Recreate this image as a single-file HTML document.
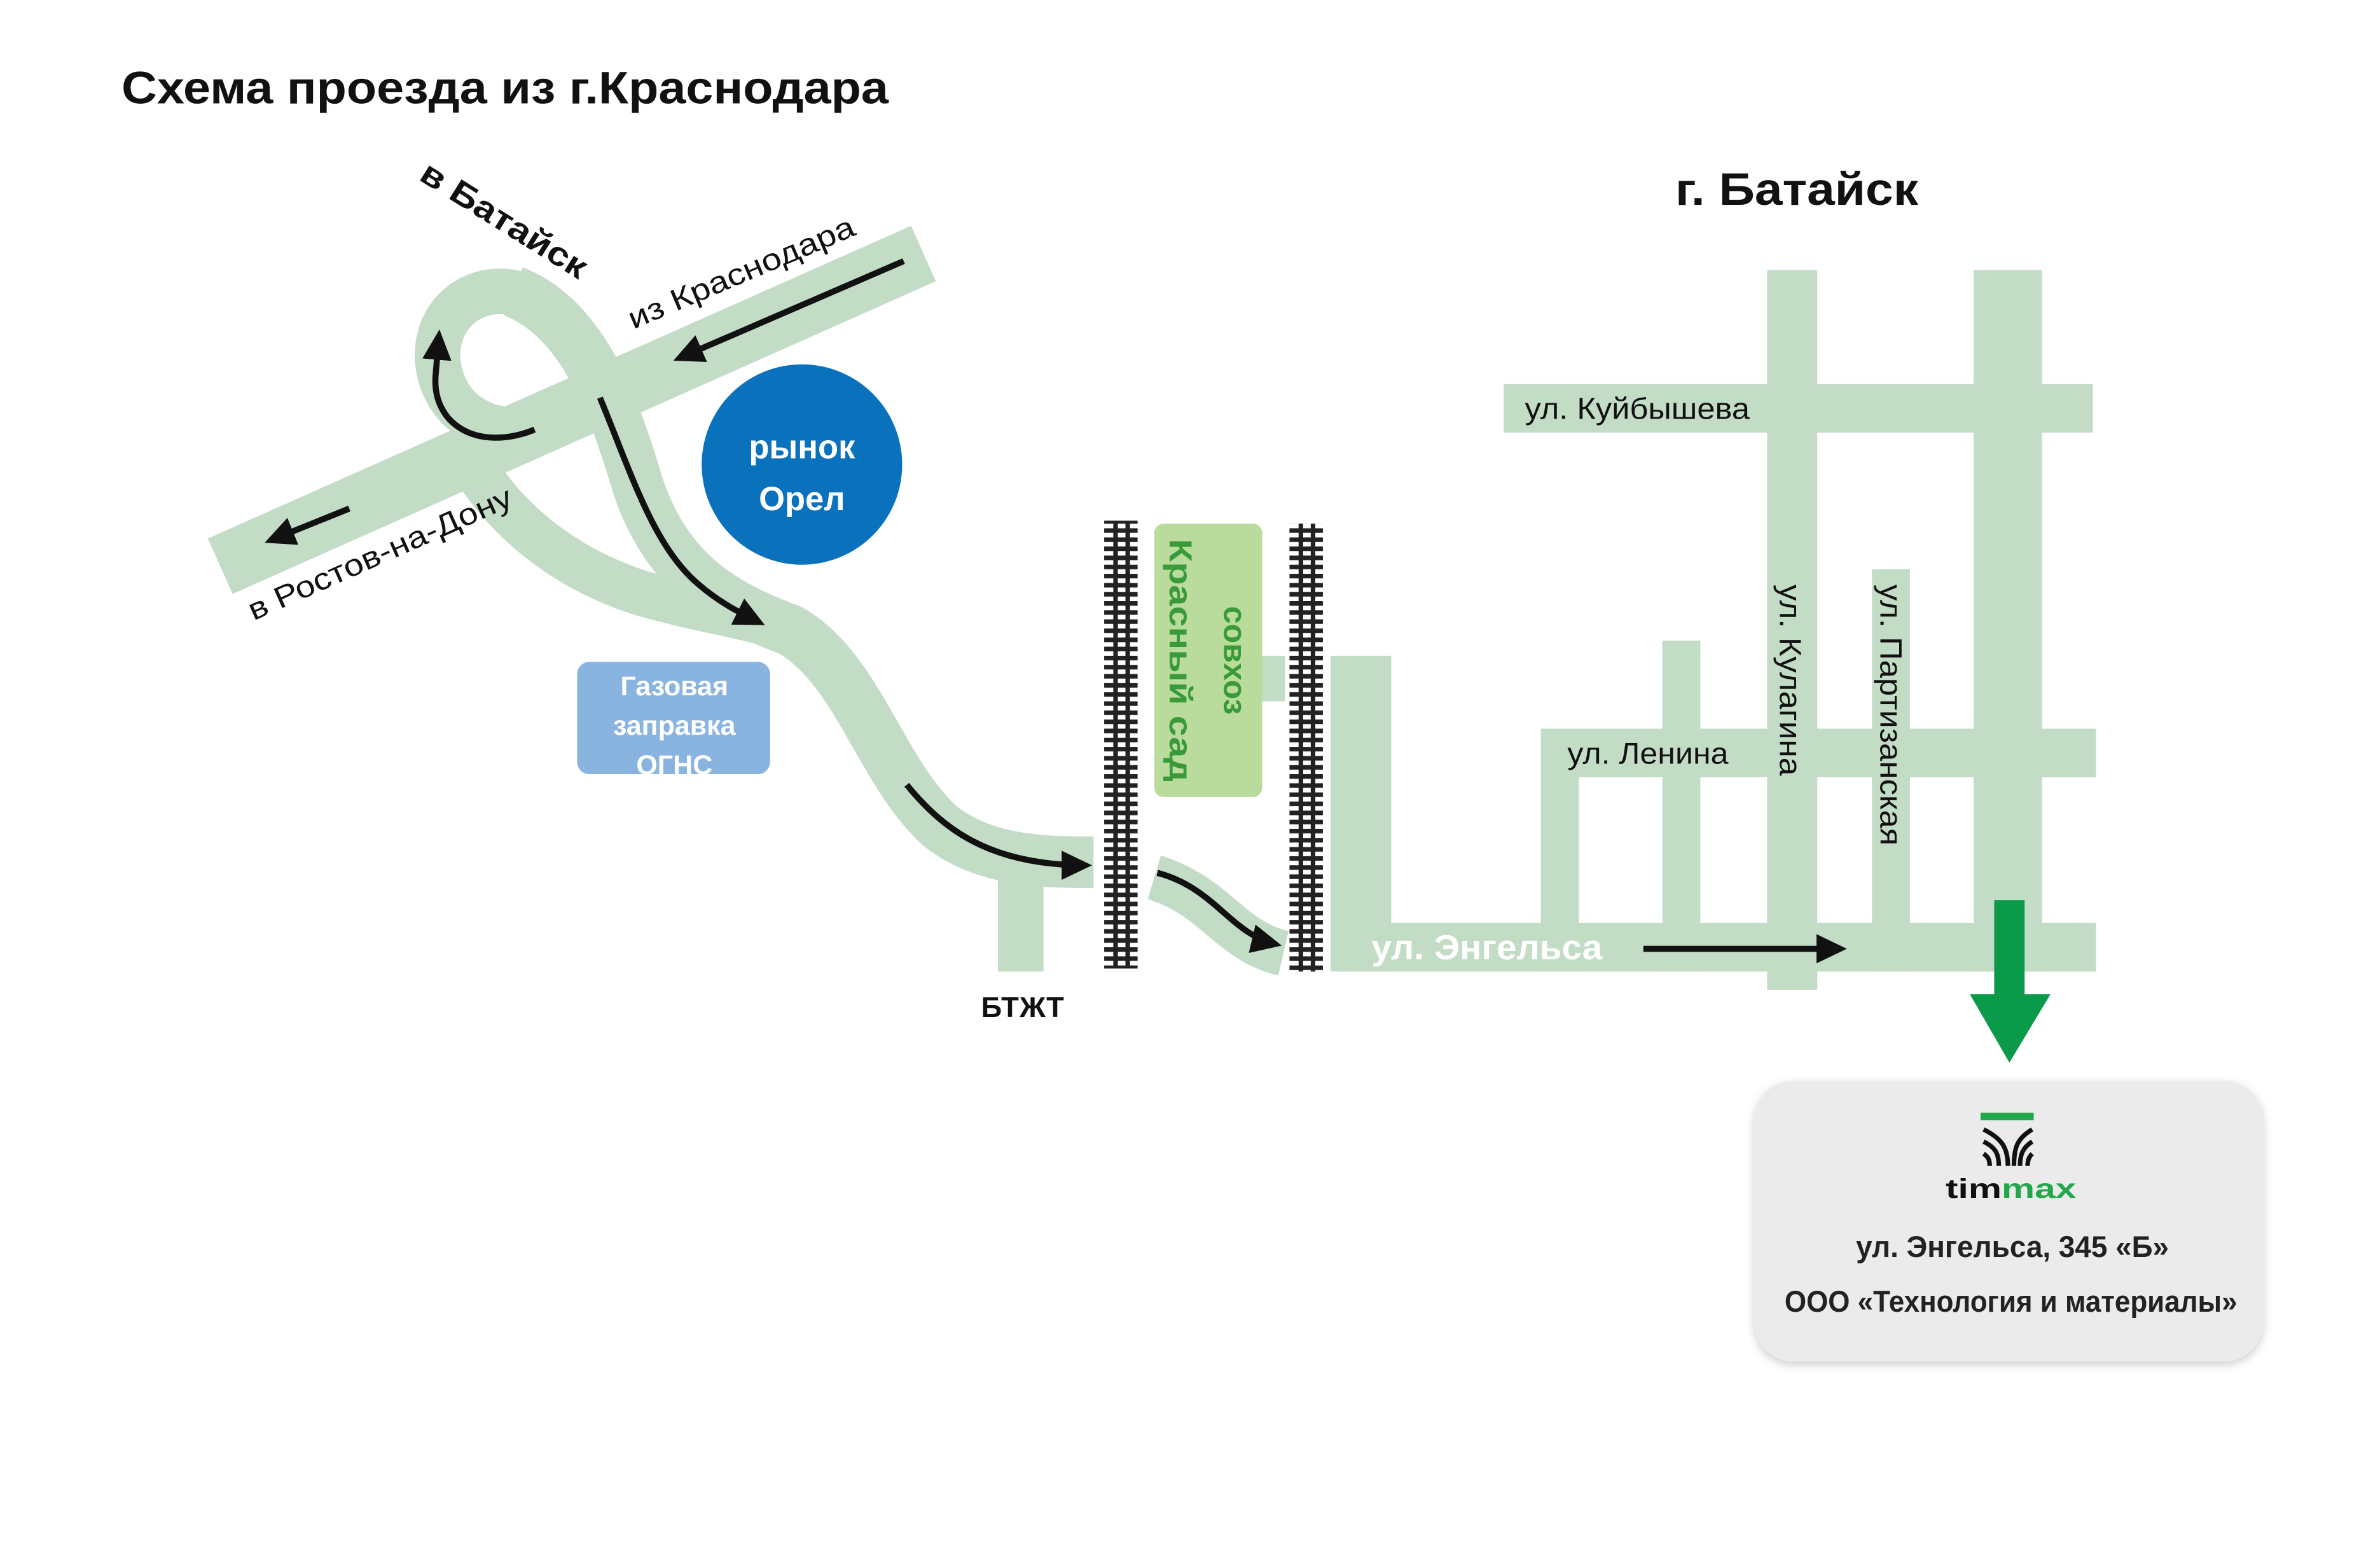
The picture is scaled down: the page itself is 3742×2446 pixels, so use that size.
<!DOCTYPE html>
<html><head><meta charset="utf-8"><style>
html,body{margin:0;padding:0;background:#fff;width:3742px;height:2446px;overflow:hidden}
svg{display:block}
text{font-family:"Liberation Sans","DejaVu Sans",sans-serif}
</style></head><body>
<svg width="3742" height="2446" viewBox="0 0 1567 1025" preserveAspectRatio="none" xmlns="http://www.w3.org/2000/svg">
<defs>
<marker id="ah" markerWidth="6" markerHeight="6" refX="4" refY="3" orient="auto" markerUnits="strokeWidth"><path d="M0,0.6 L5,3 L0,5.4 z" fill="#111"/></marker>
<pattern id="rail" width="22" height="6" patternUnits="userSpaceOnUse"><rect x="0" y="0" width="22" height="3" fill="#222"/></pattern>
<filter id="sh" x="-10%" y="-10%" width="120%" height="130%"><feDropShadow dx="0" dy="2" stdDeviation="3" flood-color="#000" flood-opacity="0.2"/></filter>
</defs>
<rect width="1567" height="1025" fill="#fff"/>
<text x="80" y="68" font-size="30" font-weight="bold" fill="#111" textLength="505" lengthAdjust="spacingAndGlyphs">Схема проезда из г.Краснодара</text>
<text x="1103" y="135" font-size="30" font-weight="bold" fill="#111" textLength="160" lengthAdjust="spacingAndGlyphs">г. Батайск</text>

<g fill="none" stroke="#c3dcc6" stroke-linecap="butt">
<line x1="145" y1="373" x2="608" y2="167" stroke-width="40"/>
<path d="M338 192 C385 210 405 270 420 320 C440 380 480 400 520 415 C565 440 580 510 620 545 C650 568 690 568 720 568" stroke-width="34"/>
<path d="M365 275 C330 295 290 275 288 235 C288 200 320 185 345 195" stroke-width="30"/>
<path d="M300 285 C320 330 360 370 420 390 C460 402 490 405 520 415" stroke-width="30"/>
<line x1="672" y1="580" x2="672" y2="640" stroke-width="30"/>
<path d="M760 578 C800 590 810 620 845 628" stroke-width="30"/>
<line x1="880" y1="624" x2="1380" y2="624" stroke-width="32"/>
<line x1="896" y1="432" x2="896" y2="640" stroke-width="40"/>
<line x1="1015" y1="496" x2="1380" y2="496" stroke-width="32"/>
<line x1="990" y1="269" x2="1378" y2="269" stroke-width="32"/>
<line x1="1027" y1="480" x2="1027" y2="640" stroke-width="25"/>
<line x1="1107" y1="422" x2="1107" y2="640" stroke-width="25"/>
<line x1="1180" y1="178" x2="1180" y2="652" stroke-width="33"/>
<line x1="1245" y1="375" x2="1245" y2="640" stroke-width="25"/>
<line x1="1322" y1="178" x2="1322" y2="640" stroke-width="45"/>
<line x1="838" y1="432" x2="838" y2="462" stroke-width="16"/>
</g>

<g>
<rect x="727" y="343" width="22" height="295" fill="url(#rail)"/>
<rect x="733" y="343" width="3" height="295" fill="#222"/><rect x="741" y="343" width="3" height="295" fill="#222"/>
<rect x="849" y="345" width="22" height="295" fill="url(#rail)"/>
<rect x="855" y="345" width="3" height="295" fill="#222"/><rect x="863" y="345" width="3" height="295" fill="#222"/>
</g>

<rect x="760" y="345" width="71" height="180" rx="6" fill="#b9dc9c"/>
<g transform="translate(806,435) rotate(90)"><text x="0" y="0" font-size="21" font-weight="bold" fill="#3a9a3a" text-anchor="middle">совхоз</text></g>
<g transform="translate(770,435) rotate(90)"><text x="0" y="0" font-size="21" font-weight="bold" fill="#3a9a3a" text-anchor="middle" textLength="160" lengthAdjust="spacingAndGlyphs">Красный сад</text></g>

<circle cx="528" cy="306" r="66" fill="#0a72bd"/>
<text x="528" y="302" font-size="22" font-weight="bold" fill="#fff" text-anchor="middle">рынок</text>
<text x="528" y="336" font-size="22" font-weight="bold" fill="#fff" text-anchor="middle">Орел</text>

<rect x="380" y="436" width="127" height="74" rx="8" fill="#8ab4e0"/>
<text x="444" y="458" font-size="18" font-weight="bold" fill="#fff" text-anchor="middle">Газовая</text>
<text x="444" y="484" font-size="18" font-weight="bold" fill="#fff" text-anchor="middle">заправка</text>
<text x="444" y="510" font-size="18" font-weight="bold" fill="#fff" text-anchor="middle">ОГНС</text>

<g fill="none" stroke="#111" stroke-width="4" marker-end="url(#ah)">
<line x1="595" y1="172" x2="447" y2="236"/>
<line x1="230" y1="335" x2="178" y2="356"/>
<path d="M352 283 C315 298 283 280 287 245 L289 221"/>
<path d="M395 262 C415 310 430 360 460 385 C475 398 490 405 500 410"/>
<path d="M597 517 C620 545 650 570 715 570"/>
<path d="M762 575 C800 585 810 615 840 622"/>
<line x1="1082" y1="625" x2="1212" y2="625"/>
</g>

<g transform="translate(275,118) rotate(32)"><text font-size="22" font-weight="bold" fill="#111" textLength="125" lengthAdjust="spacingAndGlyphs">в Батайск</text></g>
<g transform="translate(417,217) rotate(-23)"><text font-size="20" fill="#111" textLength="160" lengthAdjust="spacingAndGlyphs">из Краснодара</text></g>
<g transform="translate(167,409) rotate(-24)"><text font-size="20" fill="#111" textLength="188" lengthAdjust="spacingAndGlyphs">в Ростов-на-Дону</text></g>
<text x="1004" y="276" font-size="20" fill="#111" textLength="148" lengthAdjust="spacingAndGlyphs">ул. Куйбышева</text>
<text x="1032" y="503" font-size="20" fill="#111" textLength="106" lengthAdjust="spacingAndGlyphs">ул. Ленина</text>
<g transform="translate(1172,385) rotate(90)"><text font-size="20" fill="#111" textLength="126" lengthAdjust="spacingAndGlyphs">ул. Кулагина</text></g>
<g transform="translate(1238,385) rotate(90)"><text font-size="20" fill="#111" textLength="172" lengthAdjust="spacingAndGlyphs">ул. Партизанская</text></g>
<text x="903" y="632" font-size="23" font-weight="bold" fill="#fff" textLength="152" lengthAdjust="spacingAndGlyphs">ул. Энгельса</text>
<text x="646" y="670" font-size="19" font-weight="bold" fill="#111">БТЖТ</text>

<rect x="1313" y="593" width="20" height="64" fill="#0a9a4a"/>
<polygon points="1297,655 1350,655 1323,700" fill="#0a9a4a"/>

<rect x="1155" y="712" width="335" height="185" rx="26" fill="#ebebeb" filter="url(#sh)"/>
<rect x="1304" y="733" width="35" height="5" fill="#22a84a"/>
<g fill="none" stroke="#111" stroke-width="3">
<path d="M1306 744 C1318 750 1322 756 1322 768"/>
<path d="M1306 752 C1314 756 1316 760 1316 768"/>
<path d="M1306 760 C1309 762 1310 764 1310 768"/>
<path d="M1338 744 C1328 750 1326 756 1326 768"/>
<path d="M1338 752 C1332 756 1330 760 1330 768"/>
<path d="M1338 760 C1336 762 1335 764 1335 768"/>
</g>
<text x="1281" y="789" font-size="18" font-weight="bold" fill="#111" textLength="86" lengthAdjust="spacingAndGlyphs">tim<tspan fill="#22a84a">max</tspan></text>
<text x="1325" y="828" font-size="20" font-weight="bold" fill="#222" text-anchor="middle" textLength="206" lengthAdjust="spacingAndGlyphs">ул. Энгельса, 345 «Б»</text>
<text x="1324" y="864" font-size="20" font-weight="bold" fill="#222" text-anchor="middle" textLength="298" lengthAdjust="spacingAndGlyphs">ООО «Технология и материалы»</text>
</svg>
</body></html>
